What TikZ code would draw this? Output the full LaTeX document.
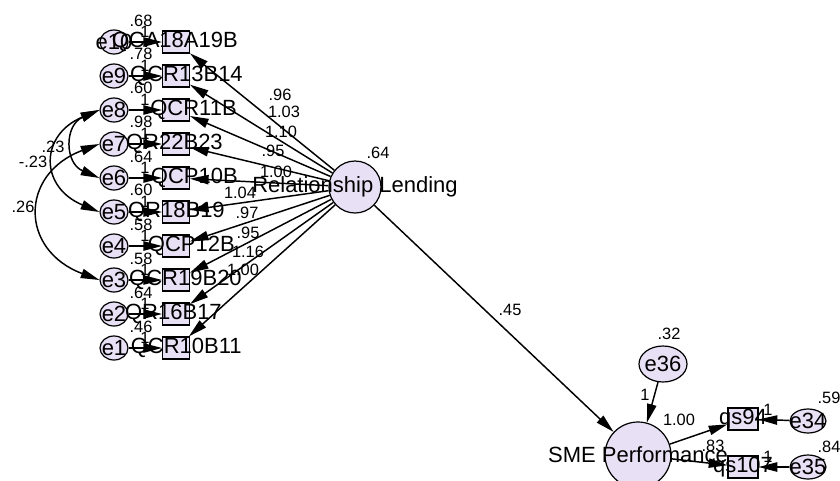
\documentclass[tikz,border=0pt]{standalone}
\usepackage{fontspec}
\setmainfont{Liberation Sans}
\usepackage{xcolor}
\usepackage{tikz}
\usetikzlibrary{arrows.meta, shapes.geometric, positioning}
\definecolor{lavender}{RGB}{232,224,245}

\begin{document}
\begin{tikzpicture}[
    x=0.75pt, y=-0.75pt,
    obs/.style={draw, rectangle, fill=lavender, line width=0.9pt, minimum width=20pt, minimum height=16.5pt, inner sep=0pt},
    err/.style={draw, ellipse, fill=lavender, line width=0.9pt, minimum width=21pt, minimum height=18pt, inner sep=0pt},
    lat/.style={draw, circle, fill=lavender, line width=0.9pt, inner sep=0pt},
    txt/.style={font=\fontsize{16.5}{19}\selectfont, inner sep=0pt},
    est/.style={font=\fontsize{12.3}{14}\selectfont, inner sep=0pt},
    arr/.style={-{Triangle[length=14pt, width=7pt]}, line width=1.1pt},
    cov/.style={{Triangle[length=14pt, width=7pt]}-{Triangle[length=14pt, width=7pt]}, line width=1.1pt}
  ]
  \useasboundingbox (0,0) rectangle (840,480);

  % indicators of relationship lending
  \node[obs] (b1) at (176,42) {};
  \node[obs, below=8.1pt of b1] (b2) {};
  \node[obs, below=8.1pt of b2] (b3) {};
  \node[obs, below=8.1pt of b3] (b4) {};
  \node[obs, below=8.1pt of b4] (b5) {};
  \node[obs, below=8.1pt of b5] (b6) {};
  \node[obs, below=8.1pt of b6] (b7) {};
  \node[obs, below=8.1pt of b7] (b8) {};
  \node[obs, below=8.1pt of b8] (b9) {};
  \node[obs, below=8.1pt of b9] (b10) {};

  % error terms
  \node[err, left=25.1pt of b1] (e10) {};
  \node[err, left=25.1pt of b2] (e9) {};
  \node[err, left=25.1pt of b3] (e8) {};
  \node[err, left=25.1pt of b4] (e7) {};
  \node[err, left=25.1pt of b5] (e6) {};
  \node[err, left=25.1pt of b6] (e5) {};
  \node[err, left=25.1pt of b7] (e4) {};
  \node[err, left=25.1pt of b8] (e3) {};
  \node[err, left=25.1pt of b9] (e2) {};
  \node[err, left=25.1pt of b10] (e1) {};

  % latent variables
  \node[lat, minimum size=39pt] (rl) at (355,187) {};
  \node[lat, minimum size=49.5pt] (sme) at (638,455) {};
  \node[err, minimum width=36pt, minimum height=27pt] (e36) at (663,364) {};
  \node[obs, minimum width=22.5pt] (qs94) at (743,419) {};
  \node[obs, minimum width=22.5pt] (qs107) at (743,467) {};
  \node[err, minimum width=27pt, minimum height=18pt] (e34) at (808,421) {};
  \node[err, minimum width=27pt, minimum height=18pt] (e35) at (808,467) {};

  % names
  \node[txt] (e10l) at (e10) {e10};
  \node[txt] (e9l) at (e9) {e9};
  \node[txt] (e8l) at (e8) {e8};
  \node[txt] (e7l) at (e7) {e7};
  \node[txt] (e6l) at (e6) {e6};
  \node[txt] (e5l) at (e5) {e5};
  \node[txt] (e4l) at (e4) {e4};
  \node[txt] (e3l) at (e3) {e3};
  \node[txt] (e2l) at (e2) {e2};
  \node[txt] (e1l) at (e1) {e1};
  \node[txt, anchor=east] (b1l) at (238,42) {QCA18A19B};
  \node[txt, anchor=east] (b2l) at (243,76) {QCR13B14};
  \node[txt, anchor=east] (b3l) at (237,110) {QCR11B};
  \node[txt, anchor=east] (b4l) at (223,144) {QR22B23};
  \node[txt, anchor=east] (b5l) at (238,178) {QCP10B};
  \node[txt, anchor=east] (b6l) at (225,212) {QR18B19};
  \node[txt, anchor=east] (b7l) at (235,246) {QCP12B};
  \node[txt, anchor=east] (b8l) at (242,280) {QCR19B20};
  \node[txt, anchor=east] (b9l) at (222,314) {QR16B17};
  \node[txt, anchor=east] (b10l) at (242,348) {QCR10B11};
  \node[txt] (rll) at (rl) {Relationship Lending};
  \node[txt] (smel) at (sme) {SME Performance};
  \node[txt] (e36l) at (e36) {e36};
  \node[txt] (qs94l) at (qs94) {qs94};
  \node[txt] (qs107l) at (qs107) {qs107};
  \node[txt] (e34l) at (e34) {e34};
  \node[txt] (e35l) at (e35) {e35};

  % paths
  \draw[arr] (rl) -- (b1);
  \draw[arr] (rl) -- (b2);
  \draw[arr] (rl) -- (b3);
  \draw[arr] (rl) -- (b4);
  \draw[arr] (rl) -- (b5);
  \draw[arr] (rl) -- (b6);
  \draw[arr] (rl) -- (b7);
  \draw[arr] (rl) -- (b8);
  \draw[arr] (rl) -- (b9);
  \draw[arr] (rl) -- (b10);
  \draw[arr] (e10) -- (b1);
  \draw[arr] (e9) -- (b2);
  \draw[arr] (e8) -- (b3);
  \draw[arr] (e7) -- (b4);
  \draw[arr] (e6) -- (b5);
  \draw[arr] (e5) -- (b6);
  \draw[arr] (e4) -- (b7);
  \draw[arr] (e3) -- (b8);
  \draw[arr] (e2) -- (b9);
  \draw[arr] (e1) -- (b10);
  \draw[arr] (rl) -- (sme);
  \draw[arr] (e36) -- (sme);
  \draw[arr] (sme) -- (qs94);
  \draw[arr] (sme) -- (qs107);
  \draw[arr] (e34) -- (qs94);
  \draw[arr] (e35) -- (qs107);

  % covariances
  \draw[cov] (e8.west) .. controls +(-35,15) and +(-35,-15) .. (e6.west);
  \draw[cov] (e8.west) .. controls +(-60,25) and +(-60,-25) .. (e5.west);
  \draw[cov] (e7.west) .. controls +(-80,30) and +(-80,-30) .. (e3.west);
  \node[est] (c1) at (53,147) {.23};
  \node[est] (c2) at (33,162) {-.23};
  \node[est] (c3) at (23,207) {.26};

  % estimates
  \node[est] (v10) at (141,21) {.68};
  \node[est] (v9) at (141,54) {.78};
  \node[est] (v8) at (141,88) {.60};
  \node[est] (v7) at (141,122) {.98};
  \node[est] (v6) at (141,157) {.64};
  \node[est] (v5) at (141,190) {.60};
  \node[est] (v4) at (141,225) {.58};
  \node[est] (v3) at (141,259) {.58};
  \node[est] (v2) at (141,293) {.64};
  \node[est] (v1) at (141,327) {.46};
  \node[est] (f10) at (145,32) {1};
  \node[est] (f9) at (145,66) {1};
  \node[est] (f8) at (145,100) {1};
  \node[est] (f7) at (145,134) {1};
  \node[est] (f6) at (145,168) {1};
  \node[est] (f5) at (145,202) {1};
  \node[est] (f4) at (145,236) {1};
  \node[est] (f3) at (145,270) {1};
  \node[est] (f2) at (145,304) {1};
  \node[est] (f1) at (145,338) {1};
  \node[est] (w1) at (280,95) {.96};
  \node[est] (w2) at (284,112) {1.03};
  \node[est] (w3) at (281,132) {1.10};
  \node[est] (w4) at (273,151) {.95};
  \node[est] (w5) at (276,172) {1.00};
  \node[est] (w6) at (240,193) {1.04};
  \node[est] (w7) at (247,213) {.97};
  \node[est] (w8) at (248,233) {.95};
  \node[est] (w9) at (248,252) {1.16};
  \node[est] (w10) at (243,270) {1.00};
  \node[est] (rlv) at (378,153) {.64};
  \node[est] (g1) at (510,310) {.45};
  \node[est] (e36v) at (669,334) {.32};
  \node[est] (e36f) at (645,395) {1};
  \node[est] (g2) at (679,420) {1.00};
  \node[est] (g3) at (713,446) {.83};
  \node[est] (e34v) at (829,398) {.59};
  \node[est] (e34f) at (768,410) {1};
  \node[est] (e35v) at (829,447) {.84};
  \node[est] (e35f) at (768,457) {1};
\end{tikzpicture}
\end{document}
